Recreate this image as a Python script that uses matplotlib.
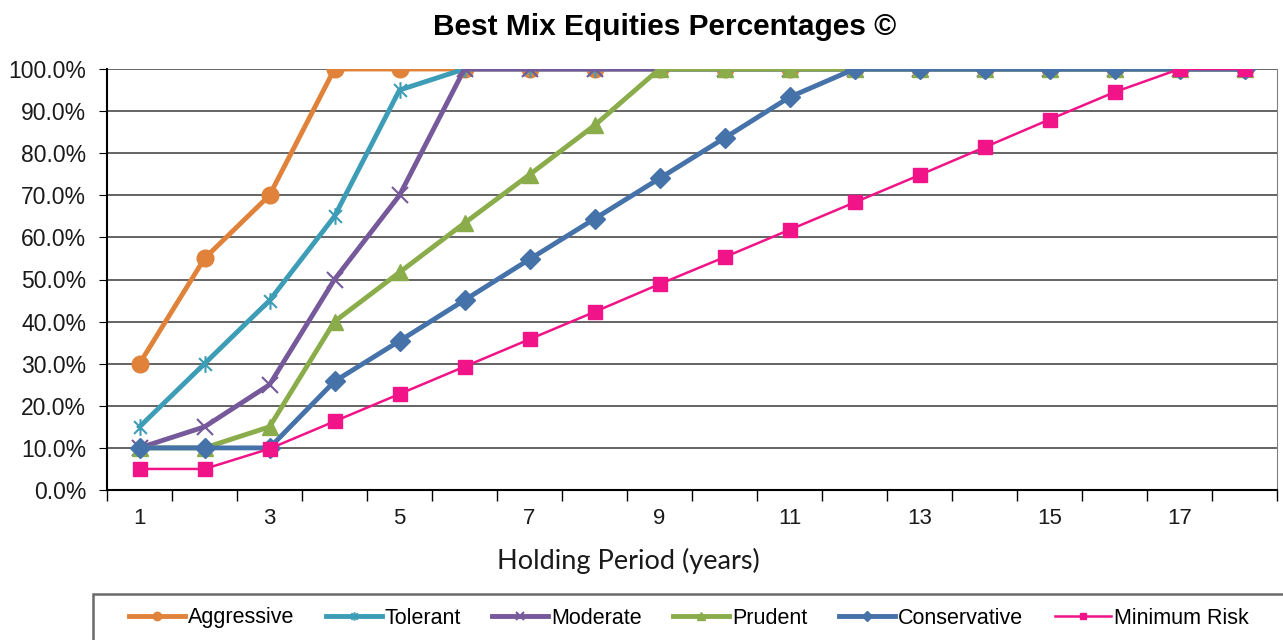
import numpy as np
import matplotlib
matplotlib.use('Agg')
import matplotlib.pyplot as plt
from matplotlib.ticker import PercentFormatter
from matplotlib.path import Path
from matplotlib.patches import Rectangle

plt.rcParams['font.family'] = ['Liberation Sans', 'DejaVu Sans']

# data
years = list(range(1, 19))
aggressive = [30, 55, 70, 100, 100, 100, 100, 100, 100, 100, 100, 100, 100, 100, 100, 100, 100, 100]
tolerant = [15, 30, 45, 65, 95, 100, 100, 100, 100, 100, 100, 100, 100, 100, 100, 100, 100, 100]
moderate = [10, 15, 25, 50, 70, 100, 100, 100, 100, 100, 100, 100, 100, 100, 100, 100, 100, 100]
prudent = [10, 10, 15, 40, 51.7, 63.4, 74.9, 86.6, 100, 100, 100, 100, 100, 100, 100, 100, 100, 100]
conservative = [10, 10, 10, 25.8, 35.4, 45.1, 54.8, 64.4, 74.0, 83.6, 93.3, 100, 100, 100, 100, 100, 100, 100]
minimum_risk = [5, 5, 9.8, 16.3, 22.8, 29.3, 35.8, 42.3, 48.9, 55.3, 61.8, 68.3, 74.8, 81.4, 88.0, 94.5, 100, 100]
xtick_labels = ['1', '3', '5', '7', '9', '11', '13', '15', '17']

fig = plt.figure(figsize=(12.83, 6.4), dpi=100)
ax = fig.add_axes([107/1283, 150/640, 1170/1283, 421/640])

# excel style star marker: an x with a vertical bar
star_path = Path([(-1, -1), (1, 1), (-1, 1), (1, -1), (0, 1.3), (0, -1.3)],
                 [1, 2, 1, 2, 1, 2])

ax.plot(years, aggressive, color='#E0823A', lw=3.5, marker='o', ms=12, label='Aggressive')
ax.plot(years, tolerant, color='#3D9DB7', lw=3.5, marker=star_path, ms=12, mew=1.5, label='Tolerant')
ax.plot(years, moderate, color='#76599A', lw=3.5, marker='x', ms=11, mew=1.5, label='Moderate')
ax.plot(years, prudent, color='#8AAC4A', lw=3.5, marker='^', ms=12, label='Prudent')
ax.plot(years, conservative, color='#4672AA', lw=3.5, marker='D', ms=10, label='Conservative')
ax.plot(years, minimum_risk, color='#F01488', lw=1.8, marker='s', ms=10, label='Minimum Risk')

ax.set_xlim(0.5, 18.5)
ax.set_ylim(0, 100)
ax.set_yticks(np.arange(0, 101, 10))
ax.yaxis.set_major_formatter(PercentFormatter(100, decimals=1))
ax.yaxis.grid(True, color='#3a3a3a', lw=1.1)
ax.set_axisbelow(True)

ax.set_xticks(np.arange(0.5, 19, 1))
ax.set_xticklabels([])
ax.set_xticks(years[::2], minor=True)
ax.set_xticklabels(xtick_labels, minor=True)
ax.tick_params(axis='x', which='major', length=8, color='black', width=1)
ax.tick_params(axis='x', which='minor', length=0, pad=13, labelsize=16, colors='#1a1a1a')
ax.tick_params(axis='y', length=6, pad=9, labelsize=16.5, colors='#1a1a1a')
ax.tick_params(axis='y', color='black')

ax.spines['top'].set_visible(False)
ax.spines['right'].set_color('#808080')
ax.spines['left'].set_linewidth(1.5)
ax.spines['bottom'].set_linewidth(1.5)

ax.set_xlabel('Holding Period (years)', fontsize=19.5, family='Lato', color='#1a1a1a')
ax.xaxis.set_label_coords((628 - 107)/1170, -0.138)
fig.text(0.518, 0.958, 'Best Mix Equities Percentages \u00a9', ha='center', va='center',
         fontsize=21.5, fontweight='bold')

# legend box drawn separately so it can run off the right edge like the original
fig.patches.append(Rectangle((93/1283, -0.05), 1.05, (640 - 594)/640 + 0.05,
                             transform=fig.transFigure, fill=False,
                             edgecolor='#6a6a6a', lw=1.8))
leg = fig.legend(loc='center left', bbox_to_anchor=(118/1283, 1 - 618/640), ncol=6,
                 fontsize=15.5, frameon=False, handlelength=2.6, handletextpad=0.15,
                 columnspacing=1.45, markerscale=0.5, borderpad=0)

plt.savefig('out.png', dpi=100)
